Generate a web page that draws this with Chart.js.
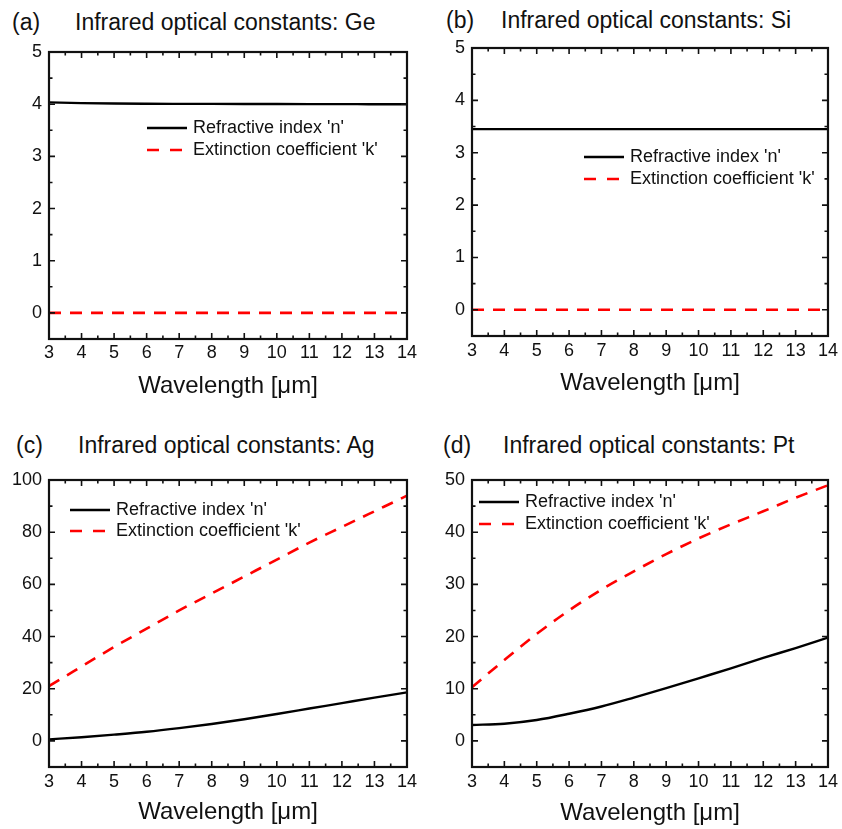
<!DOCTYPE html>
<html>
<head>
<meta charset="utf-8">
<script src="https://cdn.jsdelivr.net/npm/chart.js@4.4.1/dist/chart.umd.min.js"></script>
<style>
  body { margin: 0; background: #fff; width: 842px; height: 829px; position: relative; overflow: hidden;
         font-family: 'Liberation Sans', Arial, sans-serif; }
  canvas { position: absolute; }
  .lbl { position: absolute; font-size: 23px; line-height: 26px; color: #111; white-space: nowrap; }
</style>
</head>
<body>
<div class="lbl" style="left:12px;top:9px">(a)</div>
<div class="lbl" style="left:75px;top:9px">Infrared optical constants: Ge</div>
<div class="lbl" style="left:446px;top:7px">(b)</div>
<div class="lbl" style="left:501px;top:7px">Infrared optical constants: Si</div>
<div class="lbl" style="left:16px;top:432px">(c)</div>
<div class="lbl" style="left:78px;top:432px">Infrared optical constants: Ag</div>
<div class="lbl" style="left:443px;top:432px">(d)</div>
<div class="lbl" style="left:503px;top:432px">Infrared optical constants: Pt</div>

<canvas id="chart-ge" width="421" height="414" style="left:0;top:0"></canvas>
<canvas id="chart-si" width="421" height="414" style="left:421px;top:0"></canvas>
<canvas id="chart-ag" width="421" height="415" style="left:0;top:414px"></canvas>
<canvas id="chart-pt" width="421" height="415" style="left:421px;top:414px"></canvas>

<script>
// wavelength in µm
const wavelength = [3, 4, 5, 6, 7, 8, 9, 10, 11, 12, 13, 14]
const xTicks = [3, 4, 5, 6, 7, 8, 9, 10, 11, 12, 13, 14]

const geN = [4.035, 4.02, 4.012, 4.008, 4.006, 4.005, 4.004, 4.003, 4.002, 4.001, 4.0, 4.0]
const geK = [0, 0, 0, 0, 0, 0, 0, 0, 0, 0, 0, 0]
const siN = [3.45, 3.45, 3.45, 3.45, 3.45, 3.45, 3.45, 3.45, 3.45, 3.45, 3.45, 3.45]
const siK = [0, 0, 0, 0, 0, 0, 0, 0, 0, 0, 0, 0]
const agN = [0.6, 1.4, 2.4, 3.5, 4.9, 6.5, 8.3, 10.3, 12.4, 14.5, 16.6, 18.6]
const agK = [21, 28.5, 36, 43, 50, 56.5, 63, 69.5, 76, 82, 88, 94]
const ptN = [3.05, 3.3, 4.0, 5.2, 6.6, 8.3, 10.1, 12.0, 13.9, 15.9, 17.8, 19.8]
const ptK = [10.3, 15.5, 20.5, 25, 29, 32.5, 35.8, 38.8, 41.5, 44, 46.6, 49]

const yTicksGe = [0, 1, 2, 3, 4, 5]
const yTicksSi = [0, 1, 2, 3, 4, 5]
const yTicksAg = [0, 20, 40, 60, 80, 100]
const yTicksPt = [0, 10, 20, 30, 40, 50]

const FONT = "'Liberation Sans', Arial, sans-serif"
Chart.defaults.font.family = FONT
Chart.defaults.color = '#111'

const mids = (arr) => arr.slice(1).map((v, i) => (v + arr[i]) / 2)

// box frame with inward ticks on all four sides
const framePlugin = {
  id: 'frame',
  afterDatasetsDraw(chart) {
    const { ctx, chartArea: a, scales } = chart
    const xs = scales.x, ys = scales.y
    ctx.save()
    ctx.strokeStyle = '#111'
    const tick = (vals, len, horiz) => {
      ctx.lineWidth = 1.6
      ctx.beginPath()
      vals.forEach(v => {
        if (horiz) {
          const p = xs.getPixelForValue(v)
          ctx.moveTo(p, a.bottom); ctx.lineTo(p, a.bottom - len)
          ctx.moveTo(p, a.top); ctx.lineTo(p, a.top + len)
        } else {
          const p = ys.getPixelForValue(v)
          ctx.moveTo(a.left, p); ctx.lineTo(a.left + len, p)
          ctx.moveTo(a.right, p); ctx.lineTo(a.right - len, p)
        }
      })
      ctx.stroke()
    }
    const yt = chart.options.plugins.frame.yTicks
    tick(xTicks, 6, true)
    tick(mids(xTicks), 3.5, true)
    tick(yt, 6, false)
    tick(mids(yt), 3.5, false)
    ctx.lineWidth = 2.2
    ctx.strokeRect(a.left, a.top, a.right - a.left, a.bottom - a.top)
    ctx.restore()
  }
}

const legendPlugin = {
  id: 'inLegend',
  afterDraw(chart, args, o) {
    const c = chart.ctx
    chart.data.datasets.forEach((ds, i) => {
      const y = o.y + i * o.gap
      c.save()
      c.strokeStyle = ds.borderColor
      c.lineWidth = ds.borderWidth
      c.setLineDash(i === 0 ? [] : [12, 11])
      c.beginPath()
      c.moveTo(o.x, y)
      c.lineTo(o.x + (i === 0 ? 40 : 35), y)
      c.stroke()
      c.restore()
      c.fillStyle = '#111'
      c.font = '18px ' + FONT
      c.textBaseline = 'middle'
      c.fillText(ds.label, o.x + 46, y)
    })
  }
}

const panel = (id, n, k, yTicks, p) => {
  new Chart(document.getElementById(id), {
    type: 'line',
    data: {
      datasets: [{
        label: "Refractive index 'n'",
        data: wavelength.map((x, i) => ({ x, y: n[i] })),
        borderColor: '#000',
        borderWidth: 2.4,
        pointRadius: 0,
        cubicInterpolationMode: 'monotone'
      }, {
        label: "Extinction coefficient 'k'",
        data: wavelength.map((x, i) => ({ x, y: k[i] })),
        borderColor: '#ff0000',
        borderWidth: 2.6,
        borderDash: [12, 9],
        pointRadius: 0,
        cubicInterpolationMode: 'monotone'
      }]
    },
    options: {
      responsive: false,
      animation: false,
      devicePixelRatio: 1,
      layout: { padding: { top: p.top, right: p.right, left: 0, bottom: 0 } },
      plugins: {
        legend: { display: false },
        tooltip: { enabled: false },
        frame: { yTicks },
        inLegend: p.legend
      },
      scales: {
        x: {
          type: 'linear', min: 3, max: 14, bounds: 'data',
          grid: { display: false, drawTicks: false },
          border: { display: false },
          afterBuildTicks: s => { s.ticks = xTicks.map(v => ({ value: v })) },
          afterFit: s => { s.height = p.xh },
          ticks: { autoSkip: false, maxRotation: 0, font: { size: 18 }, padding: p.tp },
          title: { display: true, text: 'Wavelength [μm]', font: { size: 24 }, padding: { top: 0, bottom: p.ttp } }
        },
        y: {
          min: p.ymin, max: p.ymax, bounds: 'data',
          grid: { display: false, drawTicks: false },
          border: { display: false },
          afterBuildTicks: s => { s.ticks = yTicks.map(v => ({ value: v })) },
          afterFit: s => { s.width = p.left },
          ticks: { font: { size: 18 }, padding: 7 }
        }
      }
    },
    plugins: [framePlugin, legendPlugin]
  })
}

panel('chart-ge', geN, geK, yTicksGe, { top: 52, right: 14, left: 49, xh: 75, tp: 3, ttp: 13, ymin: -0.5, ymax: 5, legend: { x: 147, y: 128, gap: 22 } })
panel('chart-si', siN, siK, yTicksSi, { top: 48, right: 11, left: 51, xh: 78, tp: 4, ttp: 16, ymin: -0.5, ymax: 5, legend: { x: 163, y: 157, gap: 22 } })
panel('chart-ag', agN, agK, yTicksAg, { top: 66, right: 14, left: 49, xh: 62, tp: 4, ttp: 2, ymin: -10, ymax: 100, legend: { x: 70, y: 96, gap: 21 } })
panel('chart-pt', ptN, ptK, yTicksPt, { top: 66, right: 11, left: 51, xh: 62, tp: 4, ttp: 1, ymin: -5, ymax: 50, legend: { x: 58, y: 88, gap: 22 } })
</script>
</body>
</html>
